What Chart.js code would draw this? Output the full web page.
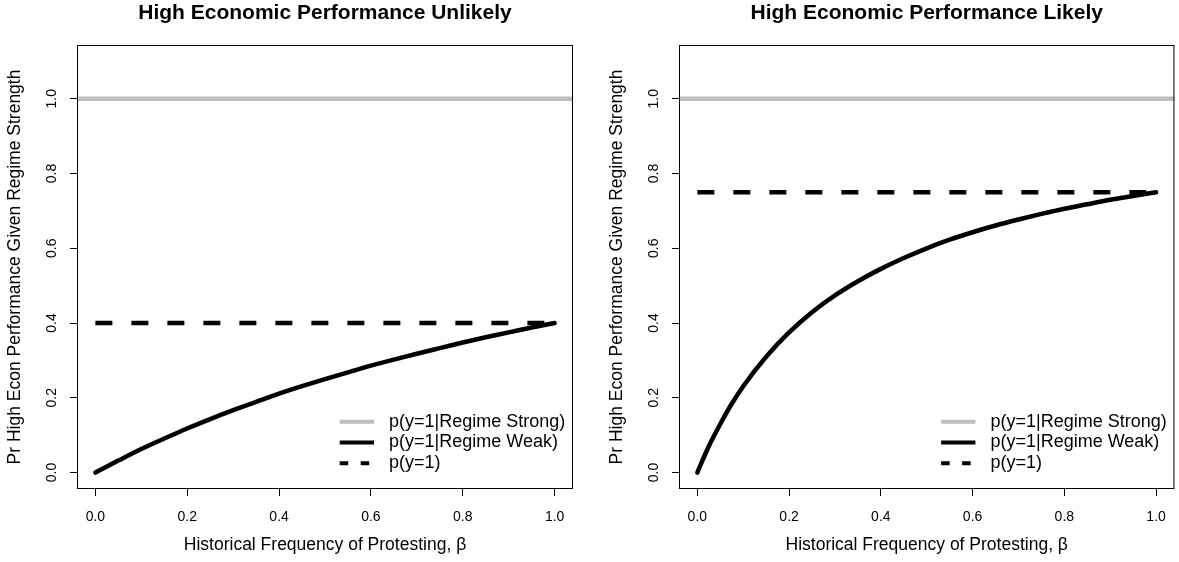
<!DOCTYPE html>
<html>
<head>
<meta charset="utf-8">
<script src="https://cdn.jsdelivr.net/npm/chart.js@4/dist/chart.umd.min.js"></script>
<style>
  html, body { margin: 0; padding: 0; background: #fff; }
  #wrap { position: relative; width: 1179px; height: 562px; overflow: hidden; }
  .panel { position: absolute; top: 0; height: 562px; }
  #pL { left: 0; width: 590px; }
  #pR { left: 590px; width: 589px; }
</style>
</head>
<body>
<div id="wrap">
  <div class="panel" id="pL"><canvas id="cL"></canvas></div>
  <div class="panel" id="pR"><canvas id="cR"></canvas></div>
</div>
<script>
// ---- data ----
const panelTitles = ['High Economic Performance Unlikely', 'High Economic Performance Likely'];
const xTitle = 'Historical Frequency of Protesting, \u03B2';
const yTitle = 'Pr High Econ Performance Given Regime Strength';
const seriesLabels = ['p(y=1|Regime Strong)', 'p(y=1|Regime Weak)', 'p(y=1)'];
const xTickValues = [0, 0.2, 0.4, 0.6, 0.8, 1.0];
const yTickValues = [0, 0.2, 0.4, 0.6, 0.8, 1.0];

const strongLevel = 1.0;      // p(y=1 | regime strong)
const pUnlikely = 0.4;        // p(y=1), left panel
const pLikely = 0.75;         // p(y=1), right panel

const betaUnlikely = [0, 0.05, 0.1, 0.15, 0.2, 0.25, 0.3, 0.35, 0.4, 0.45, 0.5,
                      0.55, 0.6, 0.65, 0.7, 0.75, 0.8, 0.85, 0.9, 0.95, 1.0];
const weakUnlikely = [0, 0.032, 0.063, 0.091, 0.118, 0.143, 0.167, 0.189, 0.211, 0.231, 0.250,
                      0.268, 0.286, 0.302, 0.318, 0.333, 0.348, 0.362, 0.375, 0.388, 0.400];

const betaLikely = [0, 0.01, 0.02, 0.03, 0.05, 0.075, 0.1, 0.15, 0.2, 0.25, 0.3, 0.35, 0.4,
                    0.45, 0.5, 0.55, 0.6, 0.65, 0.7, 0.75, 0.8, 0.85, 0.9, 0.95, 1.0];
const weakLikely = [0, 0.029, 0.057, 0.083, 0.130, 0.184, 0.231, 0.310, 0.375, 0.429, 0.474, 0.512, 0.545,
                    0.574, 0.600, 0.623, 0.643, 0.661, 0.677, 0.692, 0.706, 0.718, 0.730, 0.740, 0.750];

// ---- styling ----
const FONT = "'Liberation Sans', Arial, Helvetica, sans-serif";
const X_MIN = -0.04, X_MAX = 1.04;
const Y_MIN = -0.044, Y_MAX = 1.144;
const LINE_W = 4.5;
const LEGEND_LINE_W = 4;

// Frame box, rotated y tick labels and in-plot legend
const framePlugin = {
  id: 'frame',
  afterDatasetsDraw(chart) {
    const { ctx, chartArea: a } = chart;
    ctx.save();
    ctx.strokeStyle = '#000';
    ctx.lineWidth = 1;
    ctx.setLineDash([]);
    ctx.strokeRect(a.left + 0.5, a.top + 0.5, a.right - a.left - 1, a.bottom - a.top - 1);

    // y tick labels, reading bottom-to-top
    const ys = chart.scales.y;
    ctx.fillStyle = '#000';
    ctx.font = `14px ${FONT}`;
    ctx.textAlign = 'center';
    ctx.textBaseline = 'middle';
    ys.ticks.forEach(t => {
      const py = ys.getPixelForValue(t.value);
      ctx.save();
      ctx.translate(a.left - 25, py);
      ctx.rotate(-Math.PI / 2);
      ctx.fillText(Number(t.value).toFixed(1), 0, 0);
      ctx.restore();
    });

    // legend (no border), anchored to the bottom-right of the plot
    ctx.font = `18px ${FONT}`;
    ctx.textAlign = 'left';
    chart.data.datasets.forEach((ds, i) => {
      const y = a.bottom - 67.3 + i * 20.8;
      ctx.strokeStyle = ds.borderColor;
      ctx.lineWidth = LEGEND_LINE_W;
      ctx.lineCap = 'butt';
      ctx.setLineDash(ds.borderDash ? [8.5, 12.5] : []);
      ctx.beginPath();
      ctx.moveTo(a.right - 233.3, y);
      ctx.lineTo(a.right - 199, y);
      ctx.stroke();
      ctx.setLineDash([]);
      ctx.fillStyle = '#000';
      ctx.fillText(ds.label, a.right - 184, y);
    });
    ctx.restore();
  }
};

function tickAxis(values, extra) {
  return Object.assign({
    type: 'linear',
    afterBuildTicks: s => { s.ticks = values.map(v => ({ value: v })); },
    grid: { display: true, drawOnChartArea: false, drawTicks: true, tickLength: 7, color: '#000', lineWidth: 1 },
    border: { display: false }
  }, extra);
}

function buildChart(canvasId, title, beta, weak, p, pad) {
  return new Chart(document.getElementById(canvasId), {
    type: 'line',
    data: {
      datasets: [
        {
          label: seriesLabels[0],
          data: [{ x: X_MIN, y: strongLevel }, { x: X_MAX, y: strongLevel }],
          borderColor: '#bebebe', borderWidth: LINE_W, pointRadius: 0
        },
        {
          label: seriesLabels[1],
          data: beta.map((b, i) => ({ x: b, y: weak[i] })),
          borderColor: '#000', borderWidth: LINE_W, pointRadius: 0,
          cubicInterpolationMode: 'monotone', borderCapStyle: 'round', borderJoinStyle: 'round'
        },
        {
          label: seriesLabels[2],
          data: [{ x: beta[0], y: p }, { x: beta[beta.length - 1], y: p }],
          borderColor: '#000', borderWidth: LINE_W, pointRadius: 0, borderDash: [17, 19]
        }
      ]
    },
    options: {
      responsive: true,
      maintainAspectRatio: false,
      animation: false,
      events: [],
      devicePixelRatio: 1,
      layout: { padding: pad },
      scales: {
        x: tickAxis(xTickValues, {
          min: X_MIN, max: X_MAX,
          afterFit: s => { s.height = 73; },
          ticks: {
            autoSkip: false, maxRotation: 0, minRotation: 0, padding: 13, color: '#000',
            font: { family: FONT, size: 14 },
            callback: v => Number(v).toFixed(1)
          },
          title: {
            display: true, text: xTitle, color: '#000',
            font: { family: FONT, size: 17.5 }, padding: { top: 0, bottom: 6 }
          }
        }),
        y: tickAxis(yTickValues, {
          min: Y_MIN, max: Y_MAX,
          afterFit: s => { s.width = 77; },
          ticks: { display: false },
          title: {
            display: true, text: yTitle, color: '#000',
            font: { family: FONT, size: 17.5 }, padding: { top: 5, bottom: 0 }
          }
        })
      },
      plugins: {
        legend: { display: false },
        tooltip: { enabled: false },
        title: {
          display: true, text: title, fullSize: false, color: '#000',
          font: { family: FONT, size: 21, weight: 'bold', lineHeight: 1.2 },
          padding: { top: 1, bottom: 18.8 }
        }
      }
    },
    plugins: [framePlugin]
  });
}

buildChart('cL', panelTitles[0], betaUnlikely, weakUnlikely, pUnlikely, { left: 0, right: 17, top: 0, bottom: 0 });
buildChart('cR', panelTitles[1], betaLikely, weakLikely, pLikely, { left: 12, right: 4, top: 0, bottom: 0 });
</script>
</body>
</html>
